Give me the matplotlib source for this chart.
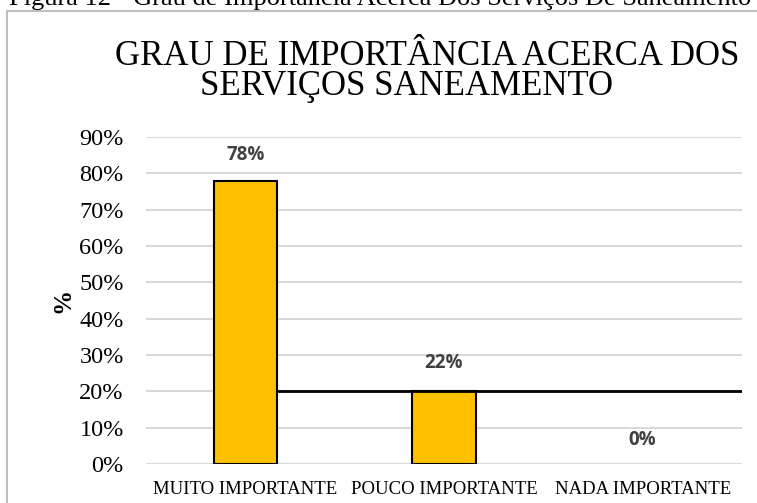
import matplotlib
matplotlib.use("Agg")
import matplotlib.pyplot as plt
from matplotlib.lines import Line2D

categories = ["MUITO IMPORTANTE", "POUCO IMPORTANTE", "NADA IMPORTANTE"]
values = [0.78, 0.20, 0.0]
value_labels = ["78%", "22%", "0%"]
yticks = [0.0, 0.1, 0.2, 0.3, 0.4, 0.5, 0.6, 0.7, 0.8, 0.9]
ytick_labels = ["0%", "10%", "20%", "30%", "40%", "50%", "60%", "70%", "80%", "90%"]
title_lines = ["GRAU DE IMPORTÂNCIA ACERCA DOS", "SERVIÇOS SANEAMENTO"]
caption = "Figura 12 - Grau de Importância Acerca Dos Serviços De Saneamento"
ref_line = 0.20

W, H = 757, 503
fig = plt.figure(figsize=(W / 100, H / 100), dpi=100)
serif = "Liberation Serif"

# outer chart border
fig.add_artist(Line2D([7 / W, 7 / W], [0, 1 - 11 / H], transform=fig.transFigure,
                      color="#bfbfbf", lw=1.5))
fig.add_artist(Line2D([7 / W, 1], [1 - 11 / H, 1 - 11 / H], transform=fig.transFigure,
                      color="#bfbfbf", lw=1.5))

# caption partly cut at top, as in the source
fig.text(380 / W, 1 - 5 / H, caption, ha="center", va="baseline",
         fontsize=19, family=serif, color="black")

ax = fig.add_axes([146 / W, 1 - 464 / H, (742 - 146) / W, (464 - 137) / H])
x = list(range(len(categories)))
lws = [1.5 if v > 0 else 0 for v in values]
ax.bar(x, values, width=0.32, color="#FFC000", edgecolor="black", linewidth=lws, zorder=3)
ax.set_xlim(-0.5, 2.5)
ax.set_ylim(0, 0.9)
ax.set_yticks(yticks)
ax.set_yticklabels(ytick_labels, family=serif, fontsize=17.5)
ax.set_xticks(x)
ax.set_xticklabels(categories, family=serif, fontsize=13.5)
ax.tick_params(axis="x", length=0, pad=12)
ax.tick_params(axis="y", length=0, pad=16)
ax.grid(axis="y", color="#d9d9d9", lw=1.5, zorder=0)
for s in ax.spines.values():
    s.set_visible(False)
ax.set_ylabel("%", family=serif, fontweight="bold", fontsize=18)
ax.yaxis.set_label_coords(-0.12, 0.5)

# horizontal reference line
ax.plot([x[0] + 0.16, 2.5], [ref_line, ref_line], color="black", lw=2, zorder=4)

offsets = [0.07, 0.078, 0.065]
for xi, v, lab, off in zip(x, values, value_labels, offsets):
    ax.text(xi, v + off, lab, ha="center", va="center", fontsize=13.5,
            fontweight="bold", family="Open Sans", color="#404040")

fig.text(427 / W, 1 - 65 / H, title_lines[0], ha="center", va="baseline",
         fontsize=25, family=serif)
fig.text(406 / W, 1 - 95 / H, title_lines[1], ha="center", va="baseline",
         fontsize=25, family=serif)

fig.savefig("out.png", dpi=100)
